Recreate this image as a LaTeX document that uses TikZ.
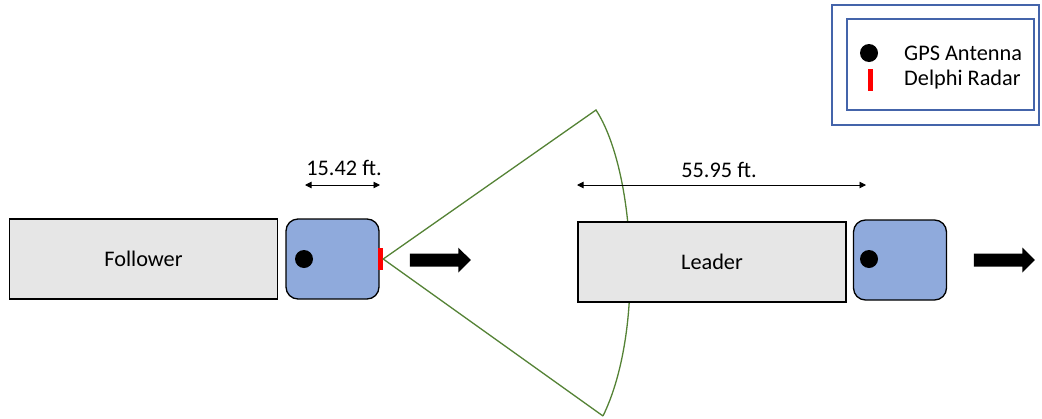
\documentclass[tikz,border=0pt]{standalone}
\usepackage{fontspec}
\setmainfont{Carlito}
\usetikzlibrary{arrows.meta,shapes.arrows}
\definecolor{trailergray}{RGB}{230,230,230}
\definecolor{cabblue}{RGB}{143,170,220}
\definecolor{legendblue}{RGB}{68,100,170}
\definecolor{radargreen}{RGB}{84,130,53}
\definecolor{radarred}{RGB}{255,0,0}
\tikzset{
  trailer/.style={draw=black, line width=1.3pt, fill=trailergray, minimum width=268pt, minimum height=80pt, inner sep=0pt},
  cab/.style={draw=black, line width=1.3pt, fill=cabblue, rounded corners=12pt, minimum width=93pt, minimum height=80pt, inner sep=0pt},
  antenna/.style={circle, fill=black, minimum size=18pt, inner sep=0pt},
  radar/.style={fill=radarred, minimum width=5pt, minimum height=22pt, inner sep=0pt},
  heading/.style={single arrow, fill=black, draw=none, minimum height=61pt, inner sep=6.3pt, single arrow head extend=6pt, single arrow tip angle=90, anchor=center},
  dimline/.style={line width=0.9pt, {Triangle[length=6.5pt,width=6.5pt]}-{Triangle[length=6.5pt,width=6.5pt]}},
  beam/.style={draw=radargreen, line width=1.3pt},
  legendframe/.style={draw=legendblue, line width=1.4pt},
  label/.style={inner sep=0pt}
}
\begin{document}
\begin{tikzpicture}[x=1pt,y=-1pt,font=\fontsize{22.3}{26}\selectfont]
\useasboundingbox (0,0) rectangle (1042,418);

% legend
\draw[legendframe] (832,5) rectangle (1039,125);
\draw[legendframe] (847,19) rectangle (1034,110);
\node[antenna] (legdot) at (869,53) {};
\node[radar] (legbar) at (870,80) {};
\node[label, anchor=west] (leggps) at (904,53) {GPS Antenna};
\node[label, anchor=west] (legradar) at (904,80) {Delphi Radar};

% follower truck
\node[trailer] (follower) at (143.5,259) {Follower};
\node[cab] (fcab) at (332.5,259) {};
\node[antenna] (fdot) at (304,259) {};
\node[radar] (fradar) at (380.5,259) {};
\node[heading] (farrow) at (437,260) {};

% radar beam
\coordinate (beamtop) at (596,110);
\coordinate (beambot) at (603,416);
\draw[beam] (beambot) -- (fradar.east) -- (beamtop)
  .. controls (635,170) and (645,330) .. (beambot);

% leader truck
\node[trailer] (leader) at (712,262) {Leader};
\node[cab] (lcab) at (900,260) {};
\node[antenna] (ldot) at (869,259) {};
\node[heading] (larrow) at (1001,260) {};

% distance annotations
\coordinate (d1a) at (305,185);
\coordinate (d1b) at (380,185);
\draw[dimline] (d1a) -- (d1b);
\node[label] (d1text) at (344,168) {15.42 ft.};
\coordinate (d2a) at (577,185);
\coordinate (d2b) at (866,185);
\draw[dimline] (d2a) -- (d2b);
\node[label] (d2text) at (719,170) {55.95 ft.};
\end{tikzpicture}
\end{document}
